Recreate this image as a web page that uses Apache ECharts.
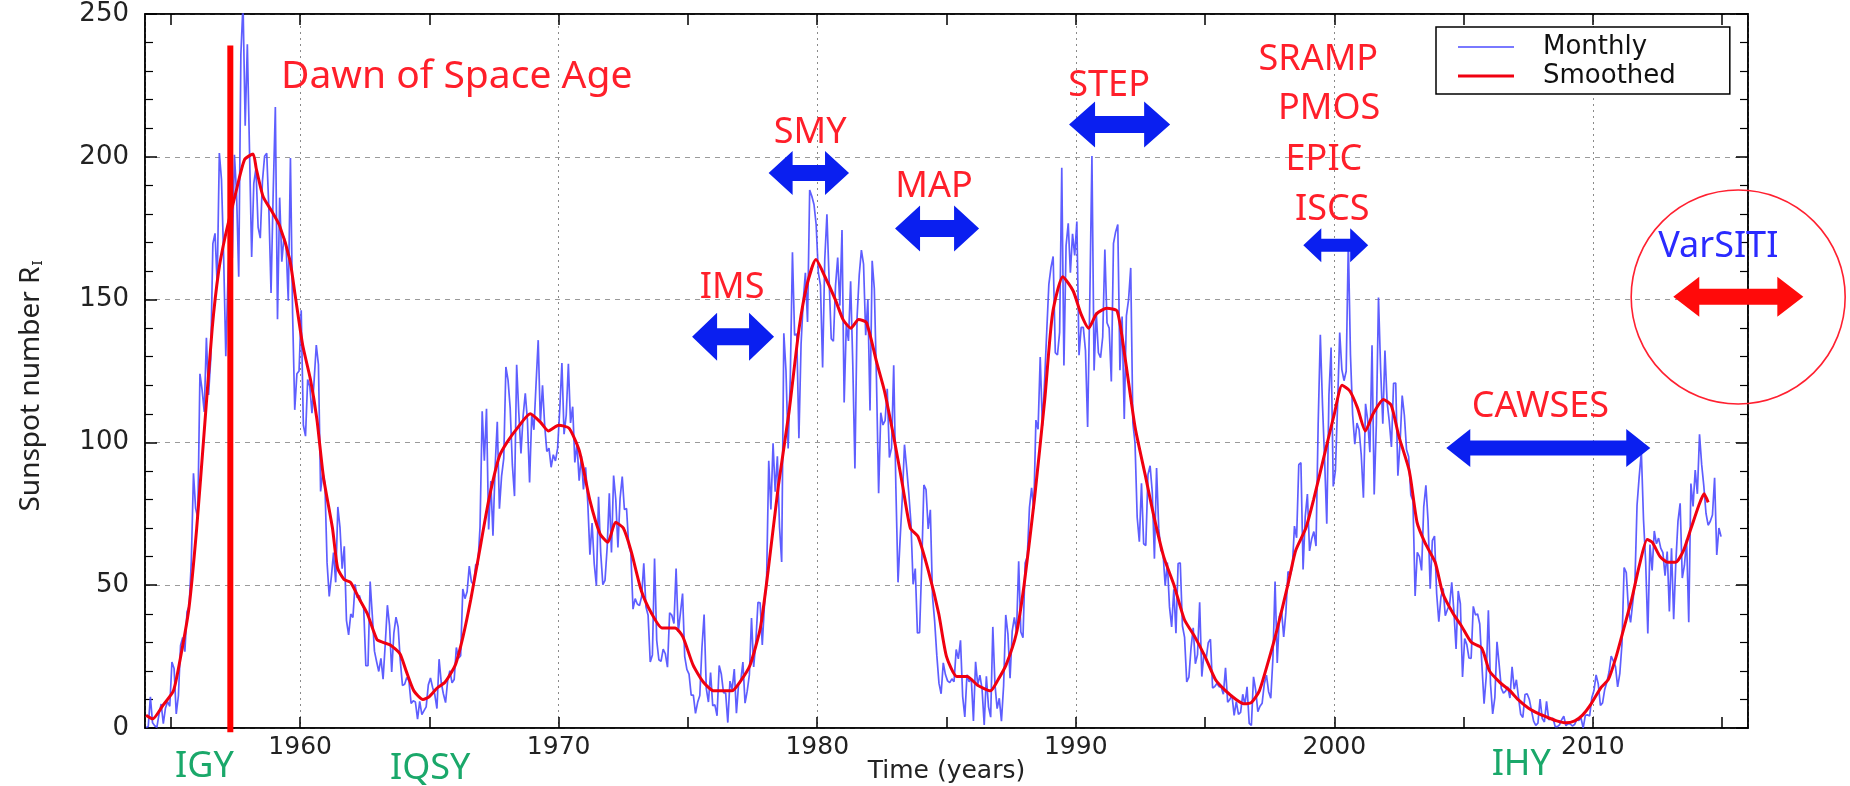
<!DOCTYPE html>
<html><head><meta charset="utf-8">
<script src="https://cdn.jsdelivr.net/npm/echarts@6/dist/echarts.min.js"></script>
<style>html,body{margin:0;padding:0;background:#fff}#c{width:1850px;height:786px}</style>
</head><body><div id="c"></div><script>
// ---------------- DATA ----------------
const startYear = 1954;
// monthly sunspot numbers, Jan 1954 .. Dec 2014 (12 values per year)
const monthly = [
0.2,0.5,10.9,1.8,0.8,0.2,4.8,8.4,1.5,7.0,9.2,7.6,
23.1,20.8,4.9,11.3,28.9,31.7,26.7,40.7,42.7,58.5,89.2,76.9,
73.6,124.0,118.4,110.7,136.6,116.6,129.1,169.6,173.2,155.3,201.3,192.1,
165.0,130.2,157.4,175.2,164.6,200.7,187.2,158.0,235.8,253.8,210.9,239.4,
202.5,164.9,190.7,196.0,175.3,171.5,191.4,200.2,201.2,181.5,152.3,187.6,
217.4,143.1,185.7,163.3,172.0,168.7,149.6,199.6,145.2,111.4,124.0,125.0,
146.3,106.0,102.2,122.0,119.6,110.2,121.7,134.1,127.2,82.8,89.6,85.6,
57.9,46.1,53.0,61.4,51.0,77.4,70.2,55.8,63.6,37.7,32.6,39.9,
38.7,50.3,45.6,46.4,43.7,42.0,21.8,21.8,51.3,39.5,26.9,23.2,
19.8,24.4,17.1,29.3,43.0,35.9,19.6,33.2,38.8,35.3,23.4,14.9,
15.3,17.7,16.5,8.6,9.5,9.1,3.1,9.3,4.7,6.1,7.4,15.1,
17.5,14.2,11.7,6.8,24.1,15.9,11.9,8.9,16.8,20.1,15.8,17.0,
28.2,24.4,25.3,48.7,45.3,47.7,56.7,51.2,50.2,57.2,57.2,70.4,
110.9,93.6,111.8,69.5,86.5,67.3,91.5,107.2,76.8,88.2,94.3,126.4,
121.8,111.9,92.2,81.2,127.2,110.3,96.1,109.3,117.2,107.7,86.0,109.8,
104.4,120.5,135.8,106.8,120.0,106.0,96.8,98.0,91.3,95.7,93.5,97.9,
111.5,127.8,102.9,109.5,127.5,106.8,112.5,93.0,99.5,86.6,95.2,83.5,
91.3,79.0,60.7,71.8,57.5,49.8,81.0,61.4,50.2,51.7,63.2,82.2,
61.5,88.4,80.1,63.2,80.5,88.0,76.5,76.8,64.0,61.3,41.6,45.3,
43.4,42.9,46.0,57.7,42.4,39.5,23.1,25.6,59.3,30.7,23.9,23.3,
27.6,26.0,21.3,40.3,39.5,36.6,55.8,33.6,40.2,47.1,25.0,20.5,
18.9,11.5,11.5,5.1,9.0,11.4,28.2,39.7,13.9,9.1,19.4,7.8,
8.1,4.3,21.9,18.8,12.4,12.2,1.9,16.4,13.5,20.6,5.2,15.3,
16.4,23.1,8.7,12.9,18.6,38.5,21.4,30.1,44.0,43.8,29.1,43.2,
51.9,93.6,76.5,99.7,82.7,95.1,70.4,58.1,138.2,125.1,97.9,122.7,
166.6,137.5,138.0,101.5,134.4,149.5,159.4,142.2,188.4,186.2,183.3,176.3,
159.6,155.0,126.2,164.1,179.9,157.3,136.3,135.4,155.0,164.7,147.9,174.4,
114.0,141.3,135.5,156.4,127.5,90.9,143.8,158.7,167.3,162.4,137.5,150.1,
111.2,163.6,153.8,122.0,82.2,110.4,106.1,107.6,118.8,94.7,98.1,127.0,
84.3,51.0,66.5,80.7,99.2,91.1,82.2,71.8,50.3,55.8,33.3,33.4,
57.0,85.1,83.5,69.7,76.4,46.1,37.4,25.5,15.7,12.0,22.8,18.7,
16.5,15.9,17.2,16.2,27.5,24.2,30.7,11.1,3.9,18.6,16.2,17.3,
2.5,23.2,15.1,18.5,13.7,1.1,18.1,7.4,3.8,35.4,15.2,6.8,
10.4,2.4,14.7,39.6,33.0,17.4,33.9,38.7,33.6,58.4,33.6,31.6,
57.8,60.0,77.2,84.1,76.7,107.8,104.6,129.9,105.8,120.9,138.5,155.3,
161.3,165.1,131.4,130.6,138.5,196.2,126.9,168.9,176.7,159.4,173.0,165.5,
177.3,130.5,140.3,140.3,132.2,105.4,149.4,200.3,125.2,145.5,131.4,129.7,
136.9,167.5,141.9,140.0,121.3,169.7,173.7,176.3,125.3,144.1,108.2,144.4,
150.0,161.1,106.7,99.8,73.8,65.2,85.7,64.5,63.9,88.7,91.8,82.6,
59.3,91.0,69.8,62.2,61.3,49.8,57.9,42.4,35.4,48.6,33.2,57.6,
57.8,35.8,31.7,16.1,17.8,28.0,35.1,22.5,25.7,44.0,18.0,26.2,
24.2,29.9,31.1,14.0,14.5,15.6,14.5,14.3,11.8,21.1,9.0,10.0,
11.5,4.4,9.2,4.8,5.5,11.8,8.2,14.4,1.6,0.9,17.9,13.3,
5.7,7.6,8.7,15.5,18.5,12.7,10.4,24.4,51.3,22.8,39.0,41.2,
31.9,40.3,54.8,53.4,56.3,70.7,66.6,92.2,92.9,55.5,74.0,81.9,
62.0,66.3,68.8,63.7,106.4,137.7,113.5,93.7,71.5,116.7,133.2,84.6,
90.1,112.9,138.5,125.5,121.6,124.9,170.1,130.5,109.7,99.4,106.8,104.4,
95.6,80.6,113.5,107.7,96.6,134.0,81.8,106.4,150.7,125.5,106.5,132.2,
114.1,107.4,98.4,120.7,120.8,88.3,99.6,116.4,109.6,97.5,95.0,81.6,
79.5,46.2,61.5,60.0,55.2,77.4,85.0,72.7,48.8,65.6,67.2,47.0,
37.2,46.0,48.9,39.3,41.5,43.2,51.0,40.9,27.7,48.0,43.5,17.9,
31.3,29.2,24.5,24.4,42.6,39.6,39.9,36.4,22.1,8.5,18.0,41.2,
15.3,4.9,10.6,30.2,22.3,13.9,12.2,12.9,14.4,10.5,21.4,13.6,
16.9,10.6,4.8,3.7,11.7,12.0,10.0,6.2,2.4,0.9,1.7,10.1,
3.3,2.1,9.3,2.9,3.2,3.4,0.5,0.5,1.1,2.9,4.1,0.8,
1.5,1.4,0.7,1.2,2.9,2.6,3.5,0.0,4.4,4.6,4.2,10.6,
13.1,18.6,15.4,7.9,8.8,13.5,16.1,19.6,25.2,23.5,21.5,14.4,
19.0,29.4,56.2,54.4,41.6,37.0,43.9,50.6,78.0,88.0,96.7,73.0,
58.3,33.1,64.2,55.2,69.0,64.5,66.5,63.0,61.4,53.3,61.8,40.8,
62.9,38.1,57.9,72.4,78.7,52.5,57.0,66.0,37.0,85.6,77.6,90.3,
82.0,102.8,92.2,84.7,75.2,71.0,72.4,74.6,87.6,60.6,70.0,67.0
];
// smoothed sunspot number
const smoothYears = [1954.04,1954.3,1954.7,1955.1,1955.4,1955.7,1956.0,1956.3,1956.6,1956.85,1957.1,1957.5,1957.85,1958.18,1958.3,1958.57,1958.9,1959.2,1959.6,1959.8,1960.1,1960.4,1960.65,1960.9,1961.25,1961.45,1961.7,1961.95,1962.3,1962.6,1962.97,1963.2,1963.5,1963.86,1964.1,1964.4,1964.75,1965.0,1965.3,1965.6,1966.0,1966.3,1966.6,1966.9,1967.3,1967.7,1968.0,1968.4,1968.9,1969.3,1969.6,1970.0,1970.4,1970.8,1971.2,1971.6,1971.9,1972.2,1972.5,1972.8,1973.2,1973.6,1974.0,1974.5,1974.8,1975.2,1975.6,1976.0,1976.3,1976.7,1977.0,1977.4,1977.8,1978.1,1978.5,1978.9,1979.3,1979.6,1979.95,1980.3,1980.7,1981.0,1981.3,1981.6,1981.9,1982.3,1982.6,1983.0,1983.3,1983.6,1983.9,1984.3,1984.7,1985.0,1985.4,1985.8,1986.2,1986.7,1987.0,1987.3,1987.7,1988.0,1988.4,1988.8,1989.1,1989.5,1989.9,1990.2,1990.5,1990.8,1991.2,1991.6,1991.9,1992.3,1992.7,1993.0,1993.4,1993.8,1994.2,1994.6,1995.0,1995.4,1995.8,1996.2,1996.5,1996.8,1997.1,1997.5,1997.8,1998.2,1998.5,1998.9,1999.2,1999.6,2000.0,2000.3,2000.6,2000.9,2001.2,2001.5,2001.9,2002.2,2002.5,2002.9,2003.2,2003.5,2003.9,2004.2,2004.6,2004.9,2005.3,2005.7,2006.0,2006.4,2006.8,2007.1,2007.5,2007.9,2008.3,2008.6,2008.95,2009.3,2009.6,2009.9,2010.3,2010.6,2010.9,2011.2,2011.5,2011.8,2012.1,2012.3,2012.6,2012.9,2013.2,2013.5,2013.8,2014.1,2014.3,2014.46];
const smoothValues = [4.5,3.2,8,13,26,42,70,105,140,160,172,187,199,201,196,186,181,176,164,152,134,122,108,88,70,56,52,51,45,40,31,30,29,26,20,13,10,11,14,16,22,32,45,60,80,95,100,105,110,107,104,106,105,97,80,68,65,72,70,62,48,40,35,35,32,22,16,13,13,13,16,22,35,55,85,110,140,155,164,158,150,143,140,143,142,128,118,100,85,70,67,55,40,25,18,18,15,13,17,22,33,50,80,115,145,158,153,145,140,145,147,146,130,105,88,75,60,50,38,32,25,17,13,10,8.5,9,13,25,35,50,62,70,80,95,110,120,118,112,104,110,115,113,102,90,72,65,58,47,40,36,30,28,20,16,13,10,7,5,3.5,2.5,1.8,2.5,4.5,8,14,17,25,35,45,57,66,65,60,58,58,62,70,78,82,79];

const xTickYears = [1955,1960,1965,1970,1975,1980,1985,1990,1995,2000,2005,2010,2015];

// Dawn of Space Age marker (year, from value, to value)
const dawnYear = 1957.3, dawnFrom = -1.5, dawnTo = 239;

// programme annotations (text, year, value)
const noteText  = ['Dawn of Space Age','IMS','SMY','MAP','STEP','SRAMP','PMOS','EPIC','ISCS','CAWSES','VarSITI','IGY','IQSY','IHY'];
const noteYear  = [1959.26,1976.71,1979.73,1984.52,1991.29,1999.38,1999.8,1999.6,1999.92,2007.97,2014.85,1956.3,1965.03,2007.23];
const noteValue = [228,154,208.3,189.4,225,233.9,216.9,198.9,181.4,112.4,168.4,-13.6,-14.4,-13];
const noteKind  = ['red','red','red','red','red','red','red','red','red','red','blue','green','green','green'];

// programme double arrows (start year, end year, value)
const arrowName  = ['IMS','SMY','MAP','STEP','ISCS','CAWSES','VarSITI'];
const arrowStart = [1975.16,1978.12,1983.01,1989.74,1998.8,2004.33,2013.11];
const arrowEnd   = [1978.33,1981.23,1986.26,1993.65,2001.31,2012.22,2018.14];
const arrowValue = [137,194.3,174.9,211.3,169,98,151];

// VarSITI circle centre (year, value)
const circleCentre = [2015.62, 150.9];

// ---------------- STYLE ----------------
const COLORS = {red:'#ff1f2a', blue:'#2a2aff', green:'#1aa86a'};
const NOTE_SIZE = [39,36,36,36,36,36,36,36,36,36,36,36,36,36];
const ARROW_STYLE = {
  IMS:{h:24,t:8.5,L:25,c:'#0a1ff0'}, SMY:{h:22,t:8,L:24,c:'#0a1ff0'}, MAP:{h:23,t:8.5,L:25,c:'#0a1ff0'},
  STEP:{h:23,t:8.5,L:26,c:'#0a1ff0'}, ISCS:{h:17,t:6.5,L:18,c:'#0a1ff0'}, CAWSES:{h:19,t:7.5,L:24,c:'#0a1ff0'},
  VarSITI:{h:20,t:8,L:26,c:'#ff0a0a'}
};

const monthlyPts = monthly.map((v,i)=>[startYear + (i+0.5)/12, v]);
const smoothPts = smoothYears.map((y,i)=>[y, smoothValues[i]]);
const notePts = noteText.map((t,i)=>[noteYear[i], noteValue[i], i]);
const arrowPts = arrowName.map((n,i)=>[arrowStart[i], arrowEnd[i], arrowValue[i], i]);

const chart = echarts.init(document.getElementById('c'), null, {renderer:'canvas'});
const tickFont = 'DejaVu Sans';
const BLUE = '#4c4cff', RED = '#f00010';
const AXLINE = {show:true, onZero:false, lineStyle:{color:'#000', width:1.5}};

chart.setOption({
  animation:false,
  backgroundColor:'#fff',
  grid:{left:145, right:102, top:14, bottom:58, show:true, borderColor:'#000', borderWidth:1.5,
        containLabel:false, outerBoundsMode:'none'},
  legend:{
    data:[{name:'Monthly', icon:'path://M0,0H56V1.5H0Z'},{name:'Smoothed', icon:'path://M0,0H56V3H0Z'}],
    orient:'vertical', left:1436, top:27,
    backgroundColor:'#fff', borderColor:'#000', borderWidth:1.5, borderRadius:0,
    padding:[7,54,5,22], itemGap:3, itemWidth:56, itemHeight:14,
    textStyle:{fontFamily:tickFont, fontSize:26, color:'#111', padding:[0,0,0,24]}
  },
  xAxis:[{
    type:'value', min:1954, max:2016, splitNumber:6, position:'bottom',
    axisLine:AXLINE,
    axisTick:{show:false},
    axisLabel:{margin:7, fontFamily:tickFont, fontSize:25, color:'#222',
      formatter:v=> (v % 10 === 0 ? String(v) : '')},
    splitLine:{show:true, lineStyle:{color:'#8a8a8a', type:[2,4], width:1}},
    name:'Time (years)', nameLocation:'middle', nameGap:31, nameMoveOverlap:false,
    nameTextStyle:{fontFamily:tickFont, fontSize:25, color:'#222'}
  },{
    type:'value', min:1954, max:2016, position:'top',
    axisLine:AXLINE,
    axisTick:{show:true, inside:true, length:11, customValues:xTickYears, lineStyle:{color:'#000', width:1.5}},
    axisLabel:{show:false}, splitLine:{show:false}
  },{
    type:'value', min:1954, max:2016, position:'bottom',
    axisLine:{show:false, onZero:false},
    axisTick:{show:true, inside:true, length:11, customValues:xTickYears, lineStyle:{color:'#000', width:1.5}},
    axisLabel:{show:false}, splitLine:{show:false}
  }],
  yAxis:[{
    type:'value', min:0, max:250, interval:50, position:'left',
    axisLine:AXLINE,
    axisTick:{show:true, inside:true, length:12, lineStyle:{color:'#000', width:1.5}},
    minorTick:{show:true, splitNumber:5, length:8, lineStyle:{color:'#000', width:1.2}},
    axisLabel:{margin:16, fontFamily:tickFont, fontSize:26, color:'#222'},
    splitLine:{show:true, lineStyle:{color:'#9a9a9a', type:[5,5], width:1}},
    name:'{a|Sunspot number R}{s|I}', nameLocation:'middle', nameGap:100, nameMoveOverlap:false,
    nameTextStyle:{fontFamily:'Noto Sans', fontSize:28, color:'#222', padding:[0,30,0,0],
      rich:{a:{fontFamily:'Noto Sans', fontSize:28, color:'#222'}, s:{fontFamily:'Noto Sans', fontSize:15, color:'#222', verticalAlign:'bottom', padding:[11,0,0,1]}}}
  },{
    type:'value', min:0, max:250, interval:50, position:'right',
    axisLine:AXLINE,
    axisTick:{show:true, inside:true, length:12, lineStyle:{color:'#000', width:1.5}},
    minorTick:{show:true, splitNumber:5, length:8, lineStyle:{color:'#000', width:1.2}},
    axisLabel:{show:false}, splitLine:{show:false}
  }],
  series:[
    {name:'Monthly', type:'line', data:monthlyPts, symbol:'none', z:3,
      lineStyle:{color:BLUE, width:1.7, opacity:0.9}, itemStyle:{color:BLUE}},
    {name:'Smoothed', type:'line', data:smoothPts, symbol:'none', z:4, smooth:0.2,
      lineStyle:{color:RED, width:3}, itemStyle:{color:RED}},
    {name:'dawn', type:'line', data:[[dawnYear,dawnFrom],[dawnYear,dawnTo]], symbol:'none', clip:false, z:6,
      lineStyle:{color:'#ff0000', width:6}, silent:true},
    {name:'arrows', type:'custom', data:arrowPts, clip:false, z:7, silent:true,
      renderItem:function(params, api){
        const i = api.value(3); const st = ARROW_STYLE[arrowName[i]];
        const a = api.coord([api.value(0), api.value(2)]);
        const b = api.coord([api.value(1), api.value(2)]);
        const y = a[1], x0 = a[0], x1 = b[0];
        const pts = [[x0,y],[x0+st.L,y-st.h],[x0+st.L,y-st.t],[x1-st.L,y-st.t],[x1-st.L,y-st.h],[x1,y],
                     [x1-st.L,y+st.h],[x1-st.L,y+st.t],[x0+st.L,y+st.t],[x0+st.L,y+st.h]];
        return {type:'polygon', shape:{points:pts}, style:{fill:st.c}};
      }},
    {name:'circle', type:'custom', data:[circleCentre], clip:false, z:7, silent:true,
      renderItem:function(params, api){
        const p = api.coord([api.value(0), api.value(1)]);
        return {type:'circle', shape:{cx:p[0], cy:p[1], r:107}, style:{fill:null, stroke:'#ff2030', lineWidth:1.6}};
      }},
    {name:'notes', type:'custom', data:notePts, clip:false, z:8, silent:true,
      renderItem:function(params, api){
        const i = api.value(2);
        const p = api.coord([api.value(0), api.value(1)]);
        return {type:'text', x:p[0], y:p[1], style:{text:noteText[i], fill:COLORS[noteKind[i]],
          fontFamily:'Noto Sans', fontSize:NOTE_SIZE[i], align: i===0 ? 'left' : 'center', verticalAlign:'middle'}};
      }}
  ]
});
</script></body></html>
